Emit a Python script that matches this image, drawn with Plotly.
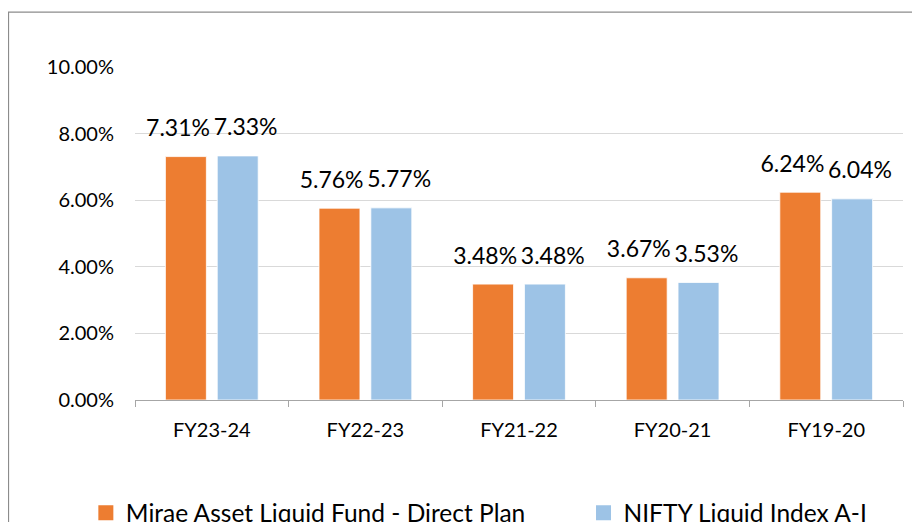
import plotly.graph_objects as go

categories = ["FY23-24", "FY22-23", "FY21-22", "FY20-21", "FY19-20"]
fund_name = "Mirae Asset Liquid Fund - Direct Plan"
index_name = "NIFTY Liquid Index A-I"
fund_values = [7.31, 5.76, 3.48, 3.67, 6.24]
index_values = [7.33, 5.77, 3.48, 3.53, 6.04]
y_ticks = [0, 2, 4, 6, 8, 10]
y_tick_labels = [f"{v:.2f}%" for v in y_ticks]

FONT = "Lato, 'Open Sans', sans-serif"
ORANGE = "#ED7D31"
BLUE = "#9DC3E6"

fig = go.Figure()
series = [(fund_name, fund_values, ORANGE, "a", "legend"),
          (index_name, index_values, BLUE, "b", "legend2")]
for name, vals, color, og, lg in series:
    fig.add_trace(go.Bar(
        x=categories, y=vals, name=name, offsetgroup=og, showlegend=False,
        marker=dict(color=color, line=dict(color="#FFFFFF", width=0.8)),
        hoverinfo="x+y",
    ))
# data labels, grouped side by side like the bars (spread slightly wider)
for name, vals, color, og, lg in series:
    fig.add_trace(go.Scatter(
        x=categories, y=vals, mode="markers+text", offsetgroup=og,
        text=[f"{v:.2f}%" for v in vals], textposition="top center",
        textfont=dict(size=23, color="#000000", family=FONT),
        marker=dict(size=22, color="rgba(0,0,0,0)"),
        showlegend=False, hoverinfo="skip", cliponaxis=False,
    ))
# legend entries with square swatches
for name, vals, color, og, lg in series:
    fig.add_trace(go.Scatter(
        x=[None], y=[None], mode="markers", name=name, legend=lg,
        marker=dict(symbol="square", size=15, color=color),
        showlegend=True, hoverinfo="skip",
    ))

fig.update_layout(
    width=920, height=522,
    margin=dict(l=127, r=25, t=59, b=130, autoexpand=False),
    paper_bgcolor="white", plot_bgcolor="white",
    barmode="group", bargap=0.325, bargroupgap=0.21,
    scattermode="group", scattergap=0.12,
    font=dict(family=FONT, color="#000000"),
    showlegend=True,
    legend=dict(
        orientation="h", x=-0.064, xanchor="left", y=-0.339, yanchor="middle",
        font=dict(size=24.5, color="#000000", family=FONT),
        bgcolor="rgba(0,0,0,0)", itemwidth=30,
    ),
    legend2=dict(
        orientation="h", x=0.584, xanchor="left", y=-0.339, yanchor="middle",
        font=dict(size=24.5, color="#000000", family=FONT),
        bgcolor="rgba(0,0,0,0)", itemwidth=30,
    ),
    xaxis=dict(
        showgrid=False, showline=True, linecolor="#A6A6A6", linewidth=1,
        ticks="outside", tickson="boundaries", ticklen=6, tickcolor="#A6A6A6",
        tickfont=dict(size=20, color="#000000", family=FONT),
        ticklabelstandoff=12,
    ),
    yaxis=dict(
        range=[0, 10], tickvals=y_ticks, ticktext=y_tick_labels,
        showgrid=True, gridcolor="#D9D9D9", gridwidth=1, zeroline=False,
        showline=False, ticks="",
        tickfont=dict(size=20, color="#000000", family=FONT),
        ticklabelstandoff=20,
    ),
    shapes=[dict(
        type="rect", xref="paper", yref="paper",
        x0=-0.1647, x1=1.2, y0=-0.6, y1=1.165,
        line=dict(color="#8C8C8C", width=1.2), fillcolor="rgba(0,0,0,0)",
        layer="below",
    )],
)

fig.write_html("out.html")
